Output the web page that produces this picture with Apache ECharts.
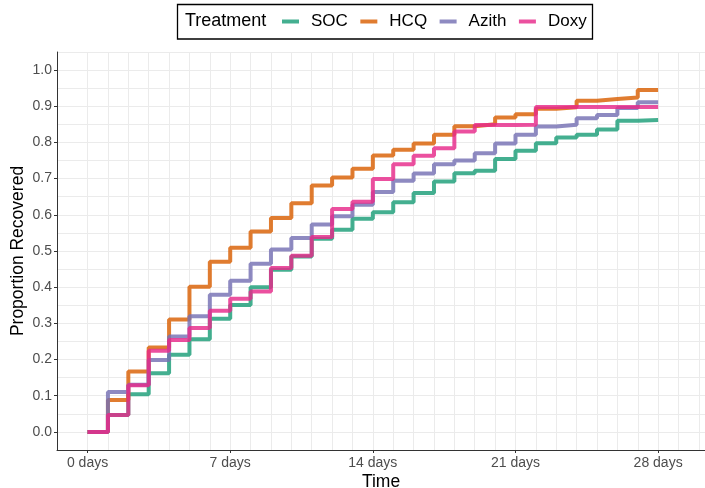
<!DOCTYPE html>
<html>
<head>
<meta charset="utf-8">
<script src="https://cdn.jsdelivr.net/npm/echarts@6.0.0/dist/echarts.min.js"></script>
<style>
  html, body { margin: 0; padding: 0; background: #fff; }
  #main { width: 705px; height: 488px; }
</style>
</head>
<body>
<div id="main"></div>
<script>
// days since start
var days = [0, 1, 2, 3, 4, 5, 6, 7, 8, 9, 10, 11, 12, 13, 14, 15, 16, 17, 18, 19, 20, 21, 22, 23, 24, 25, 26, 27, 28];
var dayTicks = [0, 7, 14, 21, 28];
var propTicks = [0, 0.1, 0.2, 0.3, 0.4, 0.5, 0.6, 0.7, 0.8, 0.9, 1.0];
var treatments = ['SOC', 'HCQ', 'Azith', 'Doxy'];

// proportion recovered, value held from day d until day d+1
var soc = [0, 0.047, 0.104, 0.162, 0.213, 0.256, 0.313, 0.351, 0.400, 0.448, 0.485, 0.534, 0.559, 0.589, 0.607,
           0.635, 0.660, 0.692, 0.715, 0.722, 0.754, 0.777, 0.798, 0.814, 0.821, 0.836, 0.860, 0.862, 0.862];
var hcq = [0, 0.088, 0.167, 0.233, 0.311, 0.401, 0.470, 0.509, 0.554, 0.591, 0.632, 0.681, 0.703, 0.727, 0.764,
           0.780, 0.797, 0.821, 0.845, 0.850, 0.869, 0.878, 0.893, 0.897, 0.915, 0.920, 0.924, 0.945, 0.945];
var azith = [0, 0.110, 0.130, 0.199, 0.264, 0.320, 0.379, 0.418, 0.465, 0.504, 0.536, 0.573, 0.596, 0.628, 0.663,
             0.694, 0.714, 0.740, 0.750, 0.770, 0.797, 0.821, 0.844, 0.849, 0.867, 0.876, 0.895, 0.911, 0.911];
var doxy = [0, 0.047, 0.129, 0.224, 0.254, 0.287, 0.335, 0.368, 0.388, 0.453, 0.487, 0.539, 0.616, 0.636, 0.699,
            0.740, 0.763, 0.784, 0.830, 0.848, 0.848, 0.849, 0.898, 0.898, 0.898, 0.898, 0.898, 0.898, 0.898];

var colors = ['#1B9E77', '#D95F02', '#7570B3', '#E7298A'];
var values = [soc, hcq, azith, doxy];

var chart = echarts.init(document.getElementById('main'));

var gridColor = '#EBEBEB';
var FONT = 'Liberation Sans';

var series = treatments.map(function (name, k) {
    return {
        name: name,
        type: 'line',
        step: 'end',
        showSymbol: false,
        symbol: 'none',
        xAxisIndex: 0,
        yAxisIndex: 0,
        color: colors[k],
        lineStyle: { width: 4, opacity: 0.82, color: colors[k] },
        itemStyle: { color: colors[k], opacity: 0.82 },
        emphasis: { disabled: true },
        z: 2 + k,
        data: days.map(function (d, i) { return [d, values[k][i]]; })
    };
});

var option = {
    animation: false,
    backgroundColor: '#fff',
    textStyle: { fontFamily: FONT },
    grid: { left: 57, right: 0, top: 52, bottom: 38, containLabel: false, outerBoundsMode: 'none' },
    legend: {
        data: treatments,
        left: 282,
        top: 13,
        padding: 0,
        itemWidth: 17,
        itemHeight: 4,
        itemGap: 12.5,
        icon: 'rect',
        itemStyle: { opacity: 0.82 },
        textStyle: { fontSize: 17, color: '#000', fontFamily: FONT, padding: [0, 0, 0, 7] }
    },
    xAxis: [{
        type: 'value',
        min: -1.5,
        max: 30.3,
        name: 'Time',
        nameLocation: 'middle',
        nameGap: 23,
        nameMoveOverlap: false,
        nameTextStyle: { fontSize: 17.5, color: '#000', fontFamily: FONT },
        axisLine: { show: true, onZero: false, lineStyle: { color: '#333', width: 1 } },
        axisTick: { show: true, length: 3, customValues: dayTicks, lineStyle: { color: '#333' } },
        axisLabel: {
            customValues: dayTicks, fontSize: 14, color: '#4D4D4D', margin: 6,
            formatter: function (v) { return v + ' days'; }
        },
        splitLine: { show: false }
    }, {
        type: 'value',
        min: -1.5,
        max: 30.3,
        axisLine: { show: false, onZero: false },
        axisTick: { show: false, customValues: days.concat([29, 30]) },
        axisLabel: { show: false },
        splitLine: { show: true, lineStyle: { color: gridColor, width: 1 } }
    }],
    yAxis: [{
        type: 'value',
        min: -0.05,
        max: 1.05,
        name: 'Proportion Recovered',
        nameLocation: 'middle',
        nameGap: 30,
        nameMoveOverlap: false,
        nameTextStyle: { fontSize: 17.5, color: '#000', fontFamily: FONT },
        axisLine: { show: true, onZero: false, lineStyle: { color: '#333', width: 1 } },
        axisTick: { show: true, length: 3, customValues: propTicks, lineStyle: { color: '#333' } },
        axisLabel: {
            customValues: propTicks, fontSize: 14, color: '#4D4D4D', margin: 5,
            formatter: function (v) { return v.toFixed(1); }
        },
        splitLine: { show: false }
    }, {
        type: 'value',
        min: -0.05,
        max: 1.05,
        interval: 0.05,
        axisLine: { show: false, onZero: false },
        axisTick: { show: false },
        axisLabel: { show: false },
        splitLine: { show: true, lineStyle: { color: gridColor, width: 1 } }
    }],
    graphic: [{
        type: 'rect',
        shape: { x: 177.5, y: 4.5, width: 415, height: 34.5 },
        style: { fill: 'none', stroke: '#000', lineWidth: 1.3 },
        z: 100
    }, {
        type: 'text',
        x: 185,
        y: 21.5,
        style: { text: 'Treatment', fontSize: 18, fontFamily: FONT, fill: '#000', verticalAlign: 'middle' },
        z: 100
    }],
    series: series
};

chart.setOption(option);
</script>
</body>
</html>
